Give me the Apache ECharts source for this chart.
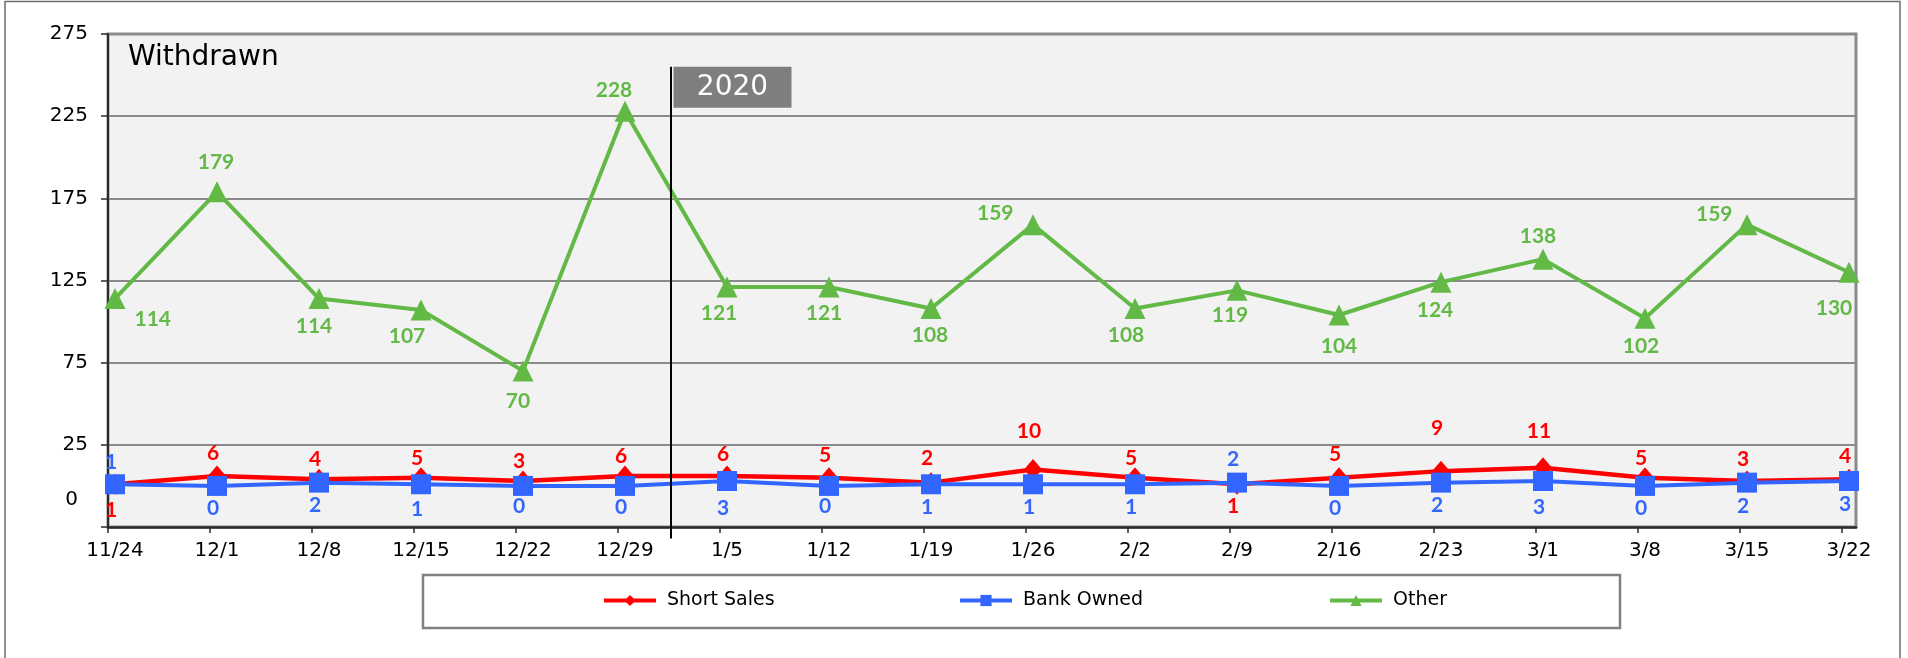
<!DOCTYPE html>
<html>
<head>
<meta charset="utf-8">
<script src="https://cdn.jsdelivr.net/npm/echarts@6/dist/echarts.min.js"></script>
<style>
  html, body { margin: 0; padding: 0; background: #fff; }
  #chart { width: 1908px; height: 658px; }
</style>
</head>
<body>
<div id="chart"></div>
<script>
// ===== Data =====
const categories = ['11/24','12/1','12/8','12/15','12/22','12/29','1/5','1/12','1/19','1/26','2/2','2/9','2/16','2/23','3/1','3/8','3/15','3/22'];
const shortSales = [1, 6, 4, 5, 3, 6, 6, 5, 2, 10, 5, 1, 5, 9, 11, 5, 3, 4];
const bankOwned  = [1, 0, 2, 1, 0, 0, 3, 0, 1, 1, 1, 2, 0, 2, 3, 0, 2, 3];
const other      = [114, 179, 114, 107, 70, 228, 121, 121, 108, 159, 108, 119, 104, 124, 138, 102, 159, 130];
const yearLabel = '2020';
const yearStartIndex = 6;

// ===== Label placement (style only) =====
const redPos  = ['bottom','top','top','top','top','top','top','top','top','top','top','bottom','top','top','top','top','top','top'];
const redDy   = [0, 3, 6, 7, 6, 6, 4, 4, 2, -12, 7, -4, 3, -17, -11, 7, 4, 3];
const bluePos = ['top','bottom','bottom','bottom','bottom','bottom','bottom','bottom','bottom','bottom','bottom','top','bottom','bottom','bottom','bottom','bottom','bottom'];
const blueDy  = [3, -3, -3, -1, -5, -4, 2, -5, -3, -3, -3, 2, -3, -3, 1, -3, -2, -2];
const greenPos = ['right','top','bottom','bottom','bottom','top','bottom','bottom','bottom','left','bottom','bottom','bottom','bottom','top','bottom','left','bottom'];
const greenOff = [[4,21],[-1,-4],[-5,2],[-14,0],[-5,4],[-11,5],[-8,0],[-5,0],[-1,1],[-4,-11],[-9,1],[-7,-1],[0,5],[-6,2],[-5,3],[-4,2],[1,-10],[-15,10]];

const RED = '#ff0000', BLUE = '#3366ff', GREEN = '#62b946';
const FONT = '"DejaVu Sans", sans-serif';
const LABEL_FONT = 'Lato, sans-serif';

const el = document.getElementById('chart');
const chart = echarts.init(el);

const dataLabel = color => ({
  show: true, color: color, fontFamily: LABEL_FONT, fontWeight: 'bold', fontSize: 21
});

const option = {
  animation: false,
  backgroundColor: '#ffffff',
  title: {
    text: 'Withdrawn', left: 128, top: 44, padding: 0,
    textStyle: { fontFamily: FONT, fontSize: 28, fontWeight: 'normal', color: '#000' }
  },
  legend: [
    { data: ['Short Sales'], left: 602 },
    { data: ['Bank Owned'], left: 958 },
    { data: ['Other'], left: 1328 }
  ].map(l => Object.assign(l, {
    top: 591, padding: 0, itemWidth: 52, itemHeight: 14,
    lineStyle: { width: 4 },
    textStyle: { fontFamily: FONT, fontSize: 19, color: '#000', padding: [0, 0, 0, 6] }
  })),
  grid: [
    { left: 108, right: 52, top: 34, bottom: 131, show: true, backgroundColor: '#f2f2f2', borderColor: '#8a8a8a', borderWidth: 3 },
    { left: 115, right: 59, top: 34, bottom: 131 },
    { left: 108, right: 66, top: 34, bottom: 131 }
  ],
  xAxis: [
    { gridIndex: 0, type: 'category', data: categories, boundaryGap: false,
      axisLine: { show: true, onZero: false, lineStyle: { color: '#2b2b2b', width: 2.5 } },
      axisTick: { show: false }, axisLabel: { show: false }, splitLine: { show: false } },
    { gridIndex: 1, type: 'category', data: categories, boundaryGap: false,
      axisLine: { show: false, onZero: false }, axisTick: { show: false },
      axisLabel: { color: '#000', fontFamily: FONT, fontSize: 20, margin: 14, interval: 0 } },
    { gridIndex: 2, type: 'category', data: categories, boundaryGap: false,
      axisLine: { show: false, onZero: false },
      axisTick: { show: true, length: 6, lineStyle: { color: '#2b2b2b', width: 1.5 } },
      axisLabel: { show: false } }
  ],
  yAxis: [
    { gridIndex: 0, type: 'value', min: -25, max: 275, interval: 50,
      axisLine: { show: true, lineStyle: { color: '#2b2b2b', width: 2 } },
      axisTick: { show: true, length: 7, lineStyle: { color: '#2b2b2b', width: 1.5 } },
      axisLabel: {
        color: '#000', fontFamily: FONT, fontSize: 20, margin: 20,
        formatter: v => v === -25 ? '{z|0}' : String(v),
        rich: { z: { color: '#000', fontFamily: FONT, fontSize: 20, padding: [0, 10, 54, 0] } }
      },
      splitLine: { show: true, lineStyle: { color: '#8a8a8a', width: 2 } } },
    { gridIndex: 1, type: 'value', min: -25, max: 275, interval: 50, show: false },
    { gridIndex: 2, type: 'value', min: -25, max: 275, interval: 50, show: false }
  ],
  series: [
    { name: 'Short Sales', type: 'line', xAxisIndex: 1, yAxisIndex: 1,
      symbol: 'diamond', symbolSize: [18, 21],
      lineStyle: { color: RED, width: 4.5 }, itemStyle: { color: RED },
      label: dataLabel(RED),
      data: shortSales.map((v, i) => ({ value: v, label: { position: redPos[i], offset: [-4, redDy[i]] } })) },
    { name: 'Bank Owned', type: 'line', xAxisIndex: 1, yAxisIndex: 1,
      symbol: 'rect', symbolSize: 20,
      lineStyle: { color: BLUE, width: 4 }, itemStyle: { color: BLUE },
      label: dataLabel(BLUE),
      data: bankOwned.map((v, i) => ({ value: v, label: { position: bluePos[i], offset: [-4, blueDy[i]] } })) },
    { name: 'Other', type: 'line', xAxisIndex: 1, yAxisIndex: 1,
      symbol: 'triangle', symbolSize: 21,
      lineStyle: { color: GREEN, width: 4 }, itemStyle: { color: GREEN },
      label: dataLabel(GREEN),
      data: other.map((v, i) => ({ value: v, label: { position: greenPos[i], offset: greenOff[i] } })) }
  ]
};

chart.setOption(option);

// Year divider between the last 2019 week and the first 2020 week
const xa = chart.convertToPixel({ xAxisIndex: 2 }, categories[yearStartIndex - 1]);
const xb = chart.convertToPixel({ xAxisIndex: 2 }, categories[yearStartIndex]);
const divX = (xa + xb) / 2 + 2;
const yTop = chart.convertToPixel({ yAxisIndex: 0 }, 255);
const yBot = chart.convertToPixel({ yAxisIndex: 0 }, -32);

chart.setOption({
  graphic: [
    { type: 'rect', z: 0, silent: true,
      shape: { x: 5, y: 1.5, width: 1895, height: 700 },
      style: { fill: 'none', stroke: '#6e6e6e', lineWidth: 1.5 } },
    { type: 'rect', z: 0, silent: true,
      shape: { x: 423, y: 575, width: 1197, height: 53 },
      style: { fill: '#fff', stroke: '#808080', lineWidth: 2.5 } },
    { type: 'line', z: 20, silent: true,
      shape: { x1: divX, y1: yTop, x2: divX, y2: yBot },
      style: { stroke: '#000', lineWidth: 2 } },
    { type: 'rect', z: 20, silent: true,
      shape: { x: divX + 2.5, y: yTop, width: 118, height: 41 },
      style: { fill: '#7c7f7e' } },
    { type: 'text', z: 21, silent: true,
      style: { text: yearLabel, x: divX + 61.5, y: yTop + 21, align: 'center', verticalAlign: 'middle',
               fill: '#fff', font: '28px "DejaVu Sans", sans-serif' } }
  ]
});
</script>
</body>
</html>
